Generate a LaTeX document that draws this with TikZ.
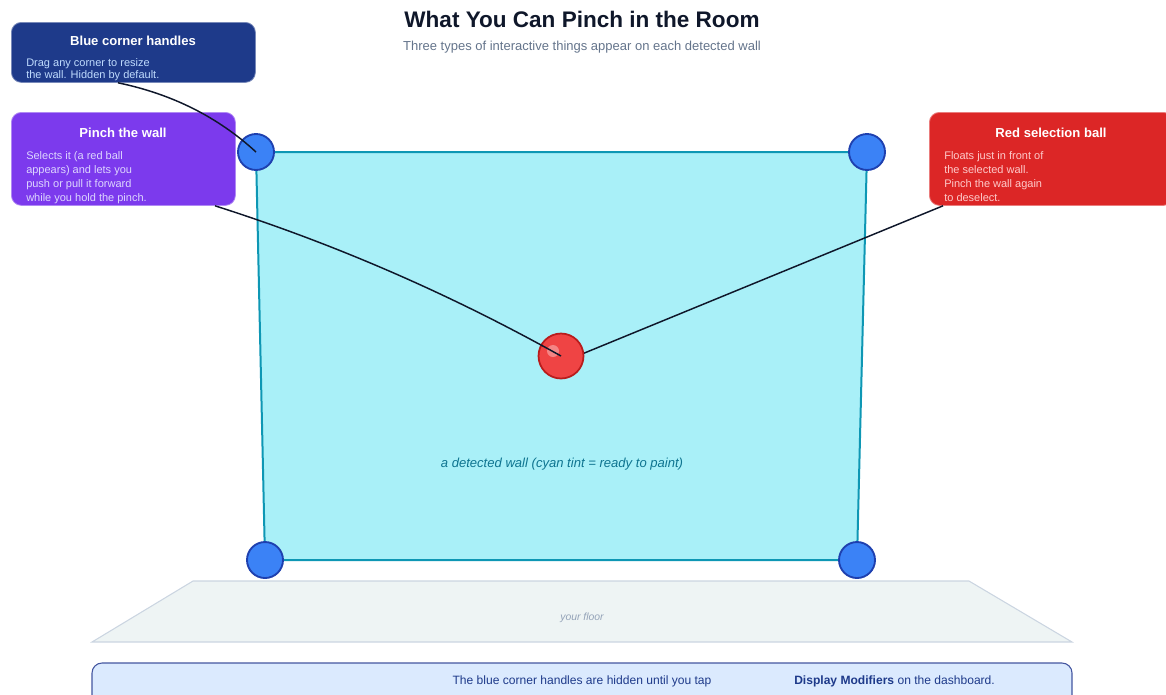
\documentclass[tikz,border=0pt]{standalone}
\usepackage{fontspec}
\setmainfont{Liberation Sans}
\usepackage{xcolor}
\usepackage{tikz}
\usetikzlibrary{calc}

\definecolor{inkdark}{HTML}{0F172A}
\definecolor{subgray}{HTML}{64748B}
\definecolor{wallfill}{HTML}{A9F0F8}
\definecolor{wallline}{HTML}{0E97B4}
\definecolor{walltext}{HTML}{0E7490}
\definecolor{handlefill}{HTML}{3B82F6}
\definecolor{handleline}{HTML}{1E40AF}
\definecolor{ballfill}{HTML}{EF4444}
\definecolor{ballline}{HTML}{B91C1C}
\definecolor{navybox}{HTML}{1E3A8A}
\definecolor{navytext}{HTML}{BFDBFE}
\definecolor{purplebox}{HTML}{7C3AED}
\definecolor{purpletext}{HTML}{DDD6FE}
\definecolor{redbox}{HTML}{DC2626}
\definecolor{redtext}{HTML}{FECACA}
\definecolor{floorfill}{HTML}{EEF4F4}
\definecolor{floorline}{HTML}{CBD5E1}
\definecolor{floortext}{HTML}{94A3B8}
\definecolor{notefill}{HTML}{DBEAFE}
\definecolor{noteline}{HTML}{4456A0}

\begin{document}
\begin{tikzpicture}[
    x=0.75pt, y=-0.75pt,
    infobox/.style={
        rounded corners=7.5pt,
        anchor=north west,
        inner sep=0pt,
        line width=0.6pt
    },
    boxtitle/.style={
        font=\fontsize{9.8}{11}\selectfont\bfseries,
        text=white,
        inner sep=0pt
    },
    boxbody/.style={
        font=\fontsize{8.25}{10.5}\selectfont,
        align=left,
        anchor=north west,
        inner sep=0pt
    },
    handle/.style={
        circle,
        draw=handleline,
        fill=handlefill,
        line width=1.4pt,
        minimum size=36pt*0.75,
        inner sep=0pt
    },
    pointer/.style={
        draw=inkdark,
        line width=1.1pt
    },
    notefont/.style={
        font=\fontsize{9.05}{10}\selectfont,
        text=navybox,
        inner sep=0pt
    }
]

\useasboundingbox (0,0) rectangle (1166,694);

% ==========================================================
% TITLE
% ==========================================================

\node[font=\fontsize{16.9}{19}\selectfont\bfseries, text=inkdark] (title)
    at (582,19) {What You Can Pinch in the Room};
\node[font=\fontsize{9.75}{11}\selectfont, text=subgray] (subtitle)
    at (582,47) {Three types of interactive things appear on each detected wall};

% ==========================================================
% FLOOR
% ==========================================================

\draw[fill=floorfill, draw=floorline, line width=0.8pt]
    (193,581) -- (969,581) -- (1072,642) -- (92,642) -- cycle;
\node[font=\fontsize{7.8}{9}\selectfont\itshape, text=floortext] (floor)
    at (582,618) {your floor};

% ==========================================================
% WALL
% ==========================================================

\draw[fill=wallfill, draw=wallline, line width=1.5pt]
    (256,152) -- (867,152) -- (857,560) -- (265,560) -- cycle;
\node[font=\fontsize{9.8}{11}\selectfont\itshape, text=walltext] (walllabel)
    at (562,464) {a detected wall (cyan tint = ready to paint)};

% ==========================================================
% CORNER HANDLES
% ==========================================================

\node[handle] (handleNW) at (256,152) {};
\node[handle] (handleNE) at (867,152) {};
\node[handle] (handleSE) at (857,560) {};
\node[handle] (handleSW) at (265,560) {};

% ==========================================================
% INFO BOXES
% ==========================================================

\node[infobox, fill=navybox, draw=navybox!60!white,
      minimum width=244pt*0.75, minimum height=60pt*0.75] (handlesbox)
    at (11,22) {};
\node[boxtitle] (handlestitle) at (133,41) {Blue corner handles};
\node[boxbody, text=navytext, font=\fontsize{8.25}{9}\selectfont] (handlesbody)
    at (26,58) {Drag any corner to resize\\the wall. Hidden by default.};

\node[infobox, fill=purplebox, draw=purplebox!60!white,
      minimum width=224pt*0.75, minimum height=93pt*0.75] (pinchbox)
    at (11,112) {};
\node[boxtitle] (pinchtitle) at (123,133) {Pinch the wall};
\node[boxbody, text=purpletext] (pinchbody)
    at (26,151) {Selects it (a red ball\\appears) and lets you\\push or pull it forward\\while you hold the pinch.};

\node[infobox, fill=redbox, draw=redbox!60!white,
      minimum width=244pt*0.75, minimum height=93pt*0.75] (ballbox)
    at (929,112) {};
\node[boxtitle] (balltitle) at (1051,133) {Red selection ball};
\node[boxbody, text=redtext] (ballbody)
    at (944,151) {Floats just in front of\\the selected wall.\\Pinch the wall again\\to deselect.};

% ==========================================================
% RED BALL + POINTERS
% ==========================================================

\draw[pointer] ($(ballbox.south west)+(14,0)$) -- (582,354);

\node[circle, draw=ballline, fill=ballfill, line width=1.3pt,
      minimum size=45pt*0.75, inner sep=0pt] (ball) at (561,356) {};
\fill[white, opacity=0.35] (553,351) circle (6);

\draw[pointer] ($(handlesbox.south west)+(107,0)$)
    .. controls (172,94) and (218,117) .. (handleNW.center);
\draw[pointer] ($(pinchbox.south west)+(204,0)$)
    .. controls (335,244) and (450,294) .. (ball.center);

% ==========================================================
% NOTE BAR
% ==========================================================

\draw[fill=notefill, draw=noteline, line width=0.8pt, rounded corners=7.5pt]
    (92,663) rectangle (1072,712);
\node[notefont] (notetext)
    at (582,681) {The blue corner handles are hidden until you tap};
\node[notefont, anchor=west] (notetail)
    at (794,681) {\textbf{Display Modifiers} on the dashboard.};

\end{tikzpicture}
\end{document}
